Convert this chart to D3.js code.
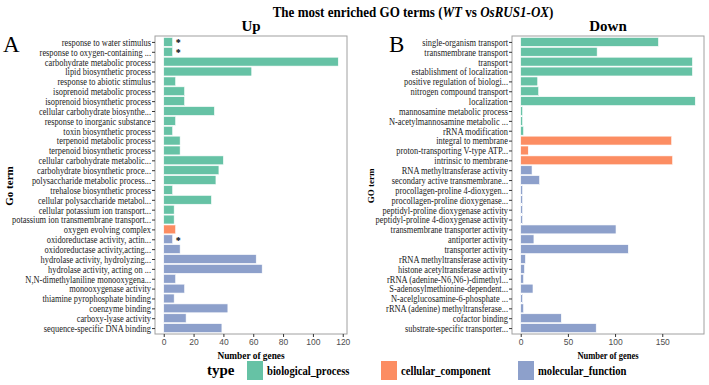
<!DOCTYPE html>
<html><head><meta charset="utf-8">
<script src="https://cdn.jsdelivr.net/npm/d3@7"></script>
<style>body{margin:0;background:#fff}svg{display:block}</style>
</head><body>
<svg id="c" width="709" height="385"></svg>
<script>
const upTerms = ["response to water stimulus","response to oxygen-containing ...","carbohydrate metabolic process","lipid biosynthetic process","response to abiotic stimulus","isoprenoid metabolic process","isoprenoid biosynthetic process","cellular carbohydrate biosynthe...","response to inorganic substance","toxin biosynthetic process","terpenoid metabolic process","terpenoid biosynthetic process","cellular carbohydrate metabolic...","carbohydrate biosynthetic proce...","polysaccharide metabolic process...","trehalose biosynthetic process","cellular polysaccharide metabol...","cellular potassium ion transport...","potassium ion transmembrane transport...","oxygen evolving complex","oxidoreductase activity, actin...","oxidoreductase activity,acting...","hydrolase activity, hydrolyzing...","hydrolase activity, acting on ...","N,N-dimethylaniline monooxygena...","monooxygenase activity","thiamine pyrophosphate binding","coenzyme binding","carboxy-lyase activity","sequence-specific DNA binding"];
const upCounts = [6,6,117,59,8,14,14,34,8,6,11,11,40,37,35,6,32,7,7,8,6,11,62,66,8,14,7,43,15,39];
const upTypes = ["BP","BP","BP","BP","BP","BP","BP","BP","BP","BP","BP","BP","BP","BP","BP","BP","BP","BP","BP","CC","MF","MF","MF","MF","MF","MF","MF","MF","MF","MF"];
const upStars = [1,1,0,0,0,0,0,0,0,0,0,0,0,0,0,0,0,0,0,0,1,0,0,0,0,0,0,0,0,0];

const downTerms = ["single-organism transport","transmembrane transport","transport","establishment of  localization","positive regulation of biologi...","nitrogen compound transport","localization","mannosamine metabolic process","N-acetylmannosamine metabolic ...","rRNA modification","integral to membrane","proton-transporting V-type ATP...","intrinsic to membrane","RNA methyltransferase activity","secondary active transmembrane...","procollagen-proline 4-dioxygen...","procollagen-proline dioxygenase...","peptidyl-proline dioxygenase activity","peptidyl-proline 4-dioxygenase activity","transmembrane transporter activity","antiporter activity","transporter activity","rRNA methyltransferase activity","histone acetyltransferase activity","rRNA (adenine-N6,N6-)-dimethyl...","S-adenosylmethionine-dependent...","N-acelglucosamine-6-phosphate ...","rRNA (adenine) methyltransferase...","cofactor binding","substrate-specific transporter..."];
const downCounts = [146,81,182,182,18,19,185,2,2,3,160,8,161,12,20,2,2,2,2,101,14,114,5,4,3,13,2,3,43,80];
const downTypes = ["BP","BP","BP","BP","BP","BP","BP","BP","BP","BP","CC","CC","CC","MF","MF","MF","MF","MF","MF","MF","MF","MF","MF","MF","MF","MF","MF","MF","MF","MF"];

const upTicks = [0,20,40,60,80,100,120];
const downTicks = [0,50,100,150];
const typeKeys = ["BP","CC","MF"];
const typeLabels = ["biological_process","cellular_component","molecular_function"];
const typeColors = ["#66C2A5","#FC8D62","#8DA0CB"];

const color = d3.scaleOrdinal().domain(typeKeys).range(typeColors);
const svg = d3.select("#c");
const serif = "'Liberation Serif','Times New Roman',serif";
const sans = "'Liberation Sans',Arial,sans-serif";

function panel(terms, counts, types, stars, ticks, x0, x1, title, letter, letterX, ylab, ylabX, ylabSize, xlabSize) {
  const n = terms.length;
  const maxV = d3.max(counts);
  const x = d3.scaleLinear().domain([-0.05*maxV, 1.05*maxV]).range([x0, x1]);
  const y = d3.scaleLinear().domain([0.4, n+0.6]).range([36, 334]);
  const g = svg.append("g");
  const data = terms.map((t,i)=>({t, v:counts[i], type:types[i], star: stars ? stars[i] : 0, pos:i+1}));
  g.selectAll("rect.bar").data(data).join("rect").attr("class","bar")
    .attr("x", x(0)).attr("y", d=>y(d.pos-0.45))
    .attr("width", d=>x(d.v)-x(0)).attr("height", d=>y(d.pos+0.45)-y(d.pos-0.45))
    .attr("fill", d=>color(d.type)).attr("stroke","#ffffff").attr("stroke-width",0.6);
  g.selectAll("text.star").data(data.filter(d=>d.star)).join("text").attr("class","star")
    .attr("x", d=>x(d.v)+3).attr("y", d=>y(d.pos)+4.5)
    .attr("font-family", serif).attr("font-size", 10).attr("font-weight","bold").text("*");
  g.append("rect").attr("x",x0).attr("y",36).attr("width",x1-x0).attr("height",298)
    .attr("fill","none").attr("stroke","#a0a0a0").attr("stroke-width",1);
  const ya = d3.axisLeft(y).tickValues(d3.range(1,n+1)).tickSize(3).tickPadding(2).tickFormat(d=>terms[d-1]);
  const yg = g.append("g").attr("transform",`translate(${x0},0)`).call(ya);
  yg.select(".domain").remove();
  yg.selectAll("line").attr("stroke","#333");
  yg.selectAll("text").attr("font-family",serif).attr("font-size",10.5).attr("fill","#1a1a1a")
    .attr("transform","scale(0.8,1)");
  const xa = d3.axisBottom(x).tickValues(ticks).tickSize(3).tickPadding(2);
  const xg = g.append("g").attr("transform","translate(0,334)").call(xa);
  xg.select(".domain").remove();
  xg.selectAll("line").attr("stroke","#333");
  xg.selectAll("text").attr("font-family",sans).attr("font-size",8.5).attr("fill","#4d4d4d");
  const cx = (x0+x1)/2;
  g.append("text").attr("x",cx).attr("y",31).attr("text-anchor","middle")
    .attr("font-family",serif).attr("font-weight","bold").attr("font-size",15).text(title);
  g.append("text").attr("transform",`translate(${cx},358.5) scale(0.85,1)`).attr("text-anchor","middle")
    .attr("font-family",serif).attr("font-weight","bold").attr("font-size",xlabSize).text("Number of genes");
  g.append("text").attr("transform",`translate(${ylabX},186) rotate(-90)`).attr("text-anchor","middle")
    .attr("font-family",serif).attr("font-weight","bold").attr("font-size",ylabSize).text(ylab);
  g.append("text").attr("x",letterX).attr("y",52)
    .attr("font-family",serif).attr("font-size",23).text(letter);
}

panel(upTerms, upCounts, upTypes, upStars, upTicks, 155, 347, "Up", "A", 3, "Go term", 13, 11, 11);
panel(downTerms, downCounts, downTypes, null, downTicks, 512, 704, "Down", "B", 389, "GO term", 374, 9, 10);

const tt = svg.append("text").attr("transform","translate(413,17) scale(0.87,1)").attr("text-anchor","middle")
  .attr("font-family",serif).attr("font-weight","bold").attr("font-size",15);
tt.append("tspan").text("The most enriched GO terms (");
tt.append("tspan").attr("font-style","italic").text("WT");
tt.append("tspan").text(" vs ");
tt.append("tspan").attr("font-style","italic").text("OsRUS1-OX");
tt.append("tspan").text(")");

const leg = svg.append("g");
leg.append("text").attr("x",207).attr("y",375).attr("font-family",serif).attr("font-weight","bold")
  .attr("font-size",15).text("type");
const legX = [247, 381, 518];
typeKeys.forEach((k,i)=>{
  leg.append("rect").attr("x",legX[i]).attr("y",361).attr("width",16).attr("height",19).attr("fill",color(k));
  leg.append("text").attr("transform",`translate(${legX[i]+20},375) scale(0.85,1)`)
    .attr("font-family",serif).attr("font-weight","bold").attr("font-size",12.5).text(typeLabels[i]);
});
</script>
</body></html>
